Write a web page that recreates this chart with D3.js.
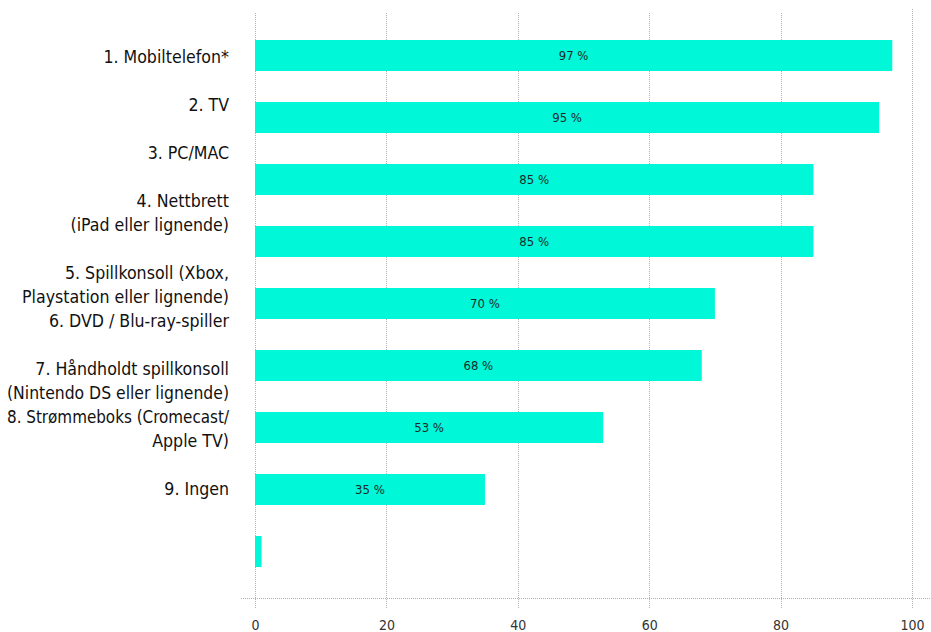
<!DOCTYPE html>
<html>
<head>
<meta charset="utf-8">
<script src="https://cdn.jsdelivr.net/npm/d3@7"></script>
<style>
  body { margin: 0; background: #fff; }
  svg text { font-family: "DejaVu Sans Condensed", "DejaVu Sans", sans-serif; font-stretch: condensed; }
  .grid line { stroke: #b0b0b0; stroke-dasharray: 1,1; }
</style>
</head>
<body>
<svg id="chart" width="931" height="632"></svg>
<script>
// data
var categories = [
  "1. Mobiltelefon*",
  "2. TV",
  "3. PC/MAC",
  "4. Nettbrett\n(iPad eller lignende)",
  "5. Spillkonsoll (Xbox,\nPlaystation eller lignende)",
  "6. DVD / Blu-ray-spiller",
  "7. Håndholdt spillkonsoll\n(Nintendo DS eller lignende)",
  "8. Strømmeboks (Cromecast/\nApple TV)",
  "9. Ingen"
];
var values = [97, 95, 85, 85, 70, 68, 53, 35, 1];
var showLabel = [true, true, true, true, true, true, true, true, false];
var xTicks = [0, 20, 40, 60, 80, 100];

var svg = d3.select("#chart"),
    MARGINS = {top: 9, left: 255, right: 19, bottom: 34},
    WIDTH = 931,
    HEIGHT = 632;

var xScale = d3.scaleLinear()
    .domain([0, 100])
    .range([MARGINS.left, WIDTH - MARGINS.right]);

var yScale = d3.scaleBand()
    .domain(d3.range(values.length))
    .range([MARGINS.top, HEIGHT - MARGINS.bottom])
    .padding(0.5);

var axisY = HEIGHT - MARGINS.bottom;

// vertical grid lines
svg.append("g")
    .attr("class", "grid")
    .selectAll("line")
    .data(xTicks)
    .enter().append("line")
    .attr("x1", function(d) { return Math.round(xScale(d)) + 0.5; })
    .attr("x2", function(d) { return Math.round(xScale(d)) + 0.5; })
    .attr("y1", function(d) { return d === 100 ? 9 : 13; })
    .attr("y2", axisY + 10);

// horizontal axis line
svg.append("g")
    .attr("class", "grid")
    .append("line")
    .attr("x1", MARGINS.left - 14)
    .attr("x2", WIDTH)
    .attr("y1", axisY + 0.5)
    .attr("y2", axisY + 0.5);

// x tick labels
var xAxis = d3.axisBottom(xScale).tickValues(xTicks).tickSize(0).tickPadding(22);
var gx = svg.append("g")
    .attr("transform", "translate(0," + axisY + ")")
    .call(xAxis);
gx.select(".domain").remove();
gx.selectAll("text")
    .attr("fill", "#333")
    .style("font-size", "14px");

// bars
svg.selectAll("rect.bar")
    .data(values)
    .enter().append("rect")
    .attr("class", "bar")
    .attr("x", xScale(0))
    .attr("y", function(d, i) { return yScale(i); })
    .attr("width", function(d) { return xScale(d) - xScale(0); })
    .attr("height", yScale.bandwidth())
    .attr("fill", "#00F7D8");

// value labels
svg.selectAll("text.val")
    .data(values.filter(function(d, i) { return showLabel[i]; }))
    .enter().append("text")
    .attr("class", "val")
    .attr("x", function(d) { return (xScale(0) + xScale(d)) / 2; })
    .attr("y", function(d, i) { return yScale(i) + yScale.bandwidth() / 2; })
    .attr("dy", "0.35em")
    .attr("text-anchor", "middle")
    .attr("fill", "#1a2a2a")
    .style("font-size", "13px")
    .text(function(d) { return d + " %"; });

// category labels flow as text lines (they don't sit on the bars in the original)
var lineHeight = 24;
var gapAfter = [1, 1, 1, 1, 0, 1, 0, 1, 0];
var maxW = 222;
var line = 0;
var labelG = svg.append("g");
categories.forEach(function(c, i) {
    c.split("\n").forEach(function(t) {
        var txt = labelG.append("text")
            .attr("x", 229)
            .attr("y", 57 + line * lineHeight)
            .attr("dy", "0.35em")
            .attr("text-anchor", "end")
            .attr("fill", "#111")
            .style("font-size", "17.6px")
            .text(t);
        if (txt.node().getComputedTextLength() > maxW) {
            txt.attr("textLength", maxW).attr("lengthAdjust", "spacingAndGlyphs");
        }
        line++;
    });
    line += gapAfter[i];
});
</script>
</body>
</html>
